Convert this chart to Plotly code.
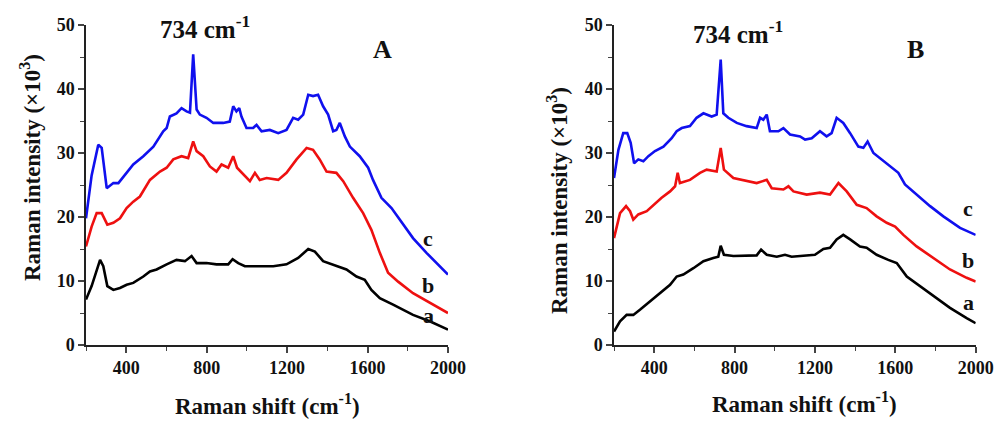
import plotly.graph_objects as go

# ---------------- Panel A data ----------------
A_c_x = [200, 228, 261, 278, 303, 336, 361, 402, 435, 485, 535, 584, 601, 617, 650, 675, 700, 717, 733, 750, 766, 799, 833, 882, 915, 932, 948, 962, 973, 998, 1031, 1048, 1073, 1114, 1156, 1197, 1230, 1255, 1280, 1305, 1329, 1354, 1379, 1404, 1429, 1445, 1462, 1487, 1512, 1561, 1603, 1627, 1669, 1719, 1760, 1826, 1893, 1959, 2000]
A_c_y = [19.8, 26.5, 31.3, 30.8, 24.5, 25.3, 25.3, 26.9, 28.2, 29.5, 31.0, 33.4, 33.9, 35.7, 36.2, 37.0, 36.5, 36.3, 45.4, 36.8, 36.0, 35.5, 34.7, 34.7, 34.9, 37.3, 36.5, 37.0, 35.7, 33.9, 33.9, 34.4, 33.4, 33.6, 33.1, 33.6, 35.5, 35.2, 36.0, 39.1, 38.9, 39.1, 37.3, 36.0, 33.4, 33.6, 34.7, 32.6, 31.0, 29.5, 27.7, 25.8, 23.0, 21.4, 19.6, 16.7, 14.4, 12.3, 11.0]

A_b_x = [200, 228, 253, 278, 306, 336, 369, 402, 435, 468, 518, 568, 601, 634, 675, 708, 733, 750, 783, 816, 849, 874, 907, 932, 951, 990, 1015, 1040, 1064, 1098, 1156, 1197, 1247, 1297, 1329, 1362, 1396, 1445, 1479, 1528, 1578, 1619, 1661, 1702, 1752, 1826, 1909, 2000]
A_b_y = [15.4, 18.5, 20.6, 20.6, 18.8, 19.1, 19.8, 21.4, 22.4, 23.2, 25.8, 27.1, 27.7, 29.0, 29.5, 29.2, 31.8, 30.3, 29.5, 27.9, 27.1, 28.2, 27.7, 29.5, 27.7, 26.4, 25.6, 26.9, 25.8, 26.1, 25.8, 26.9, 29.0, 30.8, 30.5, 29.0, 27.1, 26.9, 25.6, 23.0, 20.6, 18.0, 14.4, 11.3, 9.9, 8.1, 6.6, 5.0]

A_a_x = [200, 228, 270, 286, 306, 336, 369, 402, 435, 485, 518, 551, 601, 650, 692, 725, 750, 799, 849, 907, 929, 957, 990, 1048, 1131, 1197, 1255, 1305, 1338, 1379, 1445, 1495, 1545, 1586, 1619, 1661, 1727, 1826, 1909, 2000]
A_a_y = [7.1, 9.2, 13.3, 12.3, 9.2, 8.6, 8.9, 9.4, 9.7, 10.7, 11.5, 11.8, 12.6, 13.3, 13.1, 13.9, 12.8, 12.8, 12.6, 12.6, 13.4, 12.8, 12.3, 12.3, 12.3, 12.6, 13.6, 15.0, 14.6, 13.1, 12.3, 11.8, 10.7, 10.2, 8.6, 7.3, 6.3, 4.7, 3.7, 2.4]

# ---------------- Panel B data ----------------
B_c_x = [200, 222, 246, 266, 283, 300, 321, 346, 371, 404, 446, 487, 512, 537, 578, 611, 645, 686, 711, 731, 744, 769, 811, 860, 910, 927, 943, 960, 976, 1018, 1043, 1076, 1126, 1151, 1184, 1225, 1258, 1283, 1308, 1341, 1375, 1416, 1441, 1462, 1491, 1532, 1574, 1615, 1648, 1706, 1773, 1839, 1922, 2000]
B_c_y = [26.1, 30.5, 33.1, 33.1, 31.6, 28.4, 29.0, 28.7, 29.5, 30.3, 31.0, 32.3, 33.4, 33.9, 34.2, 35.5, 36.2, 35.7, 36.0, 44.6, 36.2, 35.5, 34.7, 34.2, 33.9, 35.5, 35.2, 36.0, 33.4, 33.4, 33.9, 32.9, 32.6, 32.1, 32.3, 33.4, 32.6, 33.1, 35.5, 34.7, 33.1, 31.0, 30.8, 31.8, 30.0, 29.0, 27.9, 26.9, 25.1, 23.5, 21.7, 20.1, 18.3, 17.2]

B_b_x = [200, 230, 260, 280, 296, 321, 363, 396, 437, 479, 504, 517, 528, 578, 628, 661, 711, 731, 747, 794, 860, 910, 960, 985, 1043, 1068, 1093, 1159, 1225, 1275, 1317, 1358, 1408, 1457, 1507, 1557, 1599, 1640, 1706, 1789, 1872, 1955, 2000]
B_b_y = [16.7, 20.6, 21.7, 20.9, 19.6, 20.4, 20.9, 21.9, 23.0, 24.0, 24.8, 26.9, 25.3, 25.8, 26.9, 27.4, 27.1, 30.8, 27.4, 26.1, 25.6, 25.3, 25.8, 24.5, 24.3, 24.8, 24.0, 23.5, 23.8, 23.5, 25.3, 24.0, 21.9, 21.4, 20.1, 19.1, 18.5, 17.2, 15.4, 13.6, 11.8, 10.5, 9.9]

B_a_x = [200, 230, 263, 296, 329, 379, 429, 479, 512, 545, 595, 645, 694, 719, 731, 747, 794, 860, 910, 932, 960, 1010, 1051, 1084, 1142, 1200, 1242, 1275, 1308, 1341, 1375, 1424, 1457, 1507, 1565, 1607, 1657, 1723, 1789, 1872, 1955, 2000]
B_a_y = [2.1, 3.7, 4.7, 4.7, 5.5, 6.8, 8.1, 9.4, 10.7, 11.0, 12.0, 13.1, 13.6, 13.8, 15.5, 14.1, 13.9, 13.9, 14.0, 14.9, 14.1, 13.8, 14.1, 13.8, 13.9, 14.1, 15.0, 15.2, 16.5, 17.2, 16.5, 15.4, 15.2, 14.1, 13.3, 12.8, 10.7, 9.2, 7.6, 5.8, 4.2, 3.4]

x_ticks = [400, 800, 1200, 1600, 2000]
y_ticks = [0, 10, 20, 30, 40, 50]
series_labels = ["a", "b", "c"]

BLUE = "#1010ee"
RED = "#ee1010"
BLACK = "#000000"
FONT = "Liberation Serif"

W, H = 1000, 421

def fx(px):
    return px / W

def fy(py):
    return 1 - py / H

fig = go.Figure()
for xs, ys, col, ax in [
    (A_a_x, A_a_y, BLACK, ("x", "y")), (A_b_x, A_b_y, RED, ("x", "y")), (A_c_x, A_c_y, BLUE, ("x", "y")),
    (B_a_x, B_a_y, BLACK, ("x2", "y2")), (B_b_x, B_b_y, RED, ("x2", "y2")), (B_c_x, B_c_y, BLUE, ("x2", "y2")),
]:
    fig.add_trace(go.Scatter(x=xs, y=ys, mode="lines", line=dict(color=col, width=2.6),
                             xaxis=ax[0], yaxis=ax[1], showlegend=False, hoverinfo="skip"))

ydom = [fy(345), fy(25)]
tickfont = dict(family=FONT, size=18, color="#111", weight="bold")
common_x = dict(range=[200, 2000], tickvals=x_ticks, ticks="outside", ticklen=6, tickwidth=1.5,
                showline=True, linecolor="#222", linewidth=1.5, showgrid=False, zeroline=False,
                tickfont=tickfont, automargin=False,
                minor=dict(ticks="outside", ticklen=4, tickwidth=1.2, dtick=200, tick0=200, showgrid=False))
common_y = dict(range=[0, 50], tickvals=y_ticks, ticks="outside", ticklen=6, tickwidth=1.5,
                showline=True, linecolor="#222", linewidth=1.5, showgrid=False, zeroline=False,
                tickfont=tickfont, automargin=False,
                minor=dict(ticks="outside", ticklen=4, tickwidth=1.2, dtick=5, tick0=0, showgrid=False),
                domain=ydom)

fig.update_layout(
    template="none",
    width=W, height=H, autosize=False,
    margin=dict(l=0, r=0, t=0, b=0, pad=0),
    paper_bgcolor="white", plot_bgcolor="white",
    xaxis=dict(domain=[fx(86), fx(448)], anchor="y", **common_x),
    yaxis=dict(anchor="x", **common_y),
    xaxis2=dict(domain=[fx(614), fx(975.7)], anchor="y2", **common_x),
    yaxis2=dict(anchor="x2", **common_y),
)

def ann(text, x, y, size, angle=0):
    fig.add_annotation(text=text, x=fx(x), y=fy(y), xref="paper", yref="paper",
                       showarrow=False, textangle=angle, xanchor="center", yanchor="middle",
                       font=dict(family=FONT, size=size, color="#111"))

# axis titles
ann("<b>Raman intensity (×10<sup>3</sup>)</b>", 30, 168, 23, -90)
ann("<b>Raman intensity (×10<sup>3</sup>)</b>", 557, 201, 23, -90)
ann("<b>Raman shift (cm<sup>-1</sup>)</b>", 267, 404, 23)
ann("<b>Raman shift (cm<sup>-1</sup>)</b>", 804, 402, 23)
# peak annotation and panel letters
ann("<b>734 cm<sup>-1</sup></b>", 205, 27, 25)
ann("<b>734 cm<sup>-1</sup></b>", 738, 32, 25)
ann("<b>A</b>", 382, 50, 26)
ann("<b>B</b>", 915, 50, 26)
# series labels
for lab, x, y in zip(series_labels, [428, 428, 428], [315, 285, 238]):
    ann("<b>" + lab + "</b>", x, y, 22)
for lab, x, y in zip(series_labels, [968, 968, 968], [302, 260, 208]):
    ann("<b>" + lab + "</b>", x, y, 22)

# remove the default 8px page margin so the 1000x421 figure fills the window exactly
fig.write_html("out.html", config={"displayModeBar": False},
               post_script="document.body.style.margin='0';document.body.style.overflow='hidden';")
